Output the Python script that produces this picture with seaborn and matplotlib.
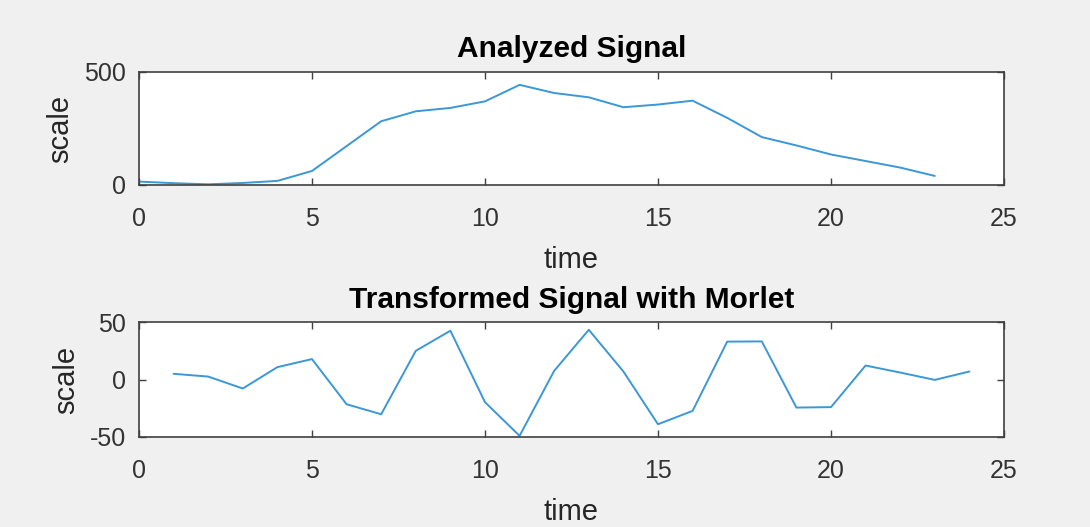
import numpy as np
import pandas as pd
import matplotlib
matplotlib.use("Agg")
import matplotlib.pyplot as plt
import seaborn as sns

# valores
tempo_sinal = [0, 1, 2, 3, 4, 5, 6, 7, 8, 9, 10, 11, 12, 13, 14, 15, 16, 17, 18, 19, 20, 21, 22, 23]
sinal = [15, 8, 3, 9, 18, 62, 172, 282, 326, 341, 370, 443, 407, 388, 344, 356, 373, 297,
         212, 175, 135, 106, 77, 40]

tempo_morlet = list(range(1, 25))
morlet = [5.0, 2.6, -7.8, 10.8, 17.8, -21.5, -30.2, 25.0, 42.5, -19.7, -49.0, 7.6,
          43.3, 7.0, -38.9, -27.3, 33.0, 33.2, -24.4, -24.0, 12.2, 6.1, -0.3, 7.0]

titulos = ["Analyzed Signal", "Transformed Signal with Morlet"]

sns.set_style("ticks")
plt.rcParams["font.family"] = ["Liberation Sans", "DejaVu Sans"]
plt.rcParams["axes.unicode_minus"] = False

cor_linha = "#3b97d6"
cor_eixo = "#404040"

fig = plt.figure(figsize=(10.9, 5.27), dpi=100, facecolor="#f0f0f0")
ax1 = fig.add_axes([0.1275, 0.649, 0.7936, 0.2144])
ax2 = fig.add_axes([0.1275, 0.1708, 0.7936, 0.218])

tabela1 = pd.DataFrame({"time": tempo_sinal, "scale": sinal})
tabela2 = pd.DataFrame({"time": tempo_morlet, "scale": morlet})

sns.lineplot(data=tabela1, x="time", y="scale", ax=ax1, color=cor_linha, linewidth=1.4)
sns.lineplot(data=tabela2, x="time", y="scale", ax=ax2, color=cor_linha, linewidth=1.4)

for ax, titulo, lim, yt in [(ax1, titulos[0], (0, 500), [0, 500]),
                            (ax2, titulos[1], (-50, 50), [-50, 0, 50])]:
    ax.set_facecolor("white")
    ax.set_xlim(0, 25)
    ax.set_ylim(*lim)
    ax.set_xticks([0, 5, 10, 15, 20, 25])
    ax.set_yticks(yt)
    ax.set_title(titulo, fontsize=21.5, fontweight="bold", color="black", pad=10.5)
    ax.set_xlabel("time", fontsize=21, color="#262626", labelpad=11)
    ax.set_ylabel("scale", fontsize=21, color="#262626", labelpad=7)
    ax.tick_params(direction="in", top=True, right=True, length=5, width=1,
                   colors=cor_eixo, labelsize=18, labelcolor="#333333")
    ax.tick_params(axis="x", pad=16)
    ax.tick_params(axis="y", pad=9.5)
    for lado in ax.spines.values():
        lado.set_visible(True)
        lado.set_color(cor_eixo)
        lado.set_linewidth(1.2)

fig.savefig("out.png", dpi=100, facecolor=fig.get_facecolor())
